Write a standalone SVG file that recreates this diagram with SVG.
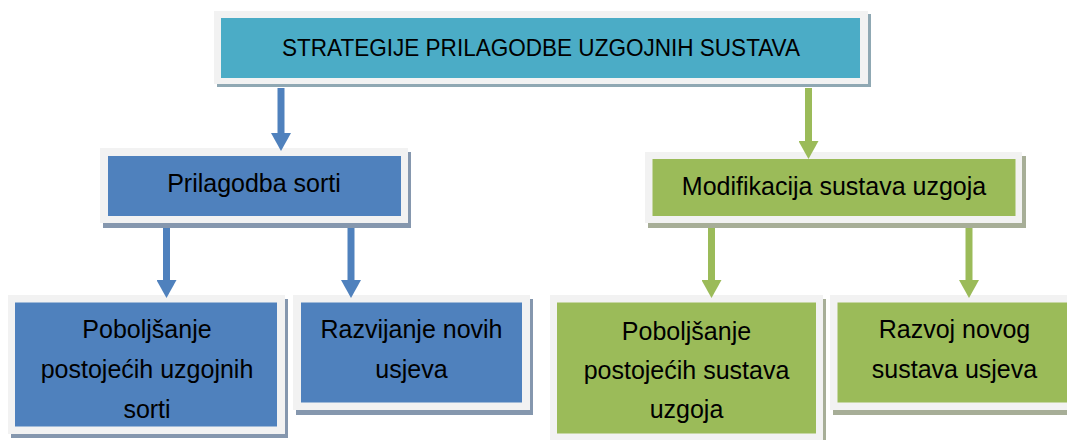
<svg xmlns="http://www.w3.org/2000/svg" width="1067" height="440" viewBox="0 0 1067 440">
  <defs>
    <style>
      .frame { fill: #f2f2f2; }
      .teal { fill: #4bacc6; }
      .blue { fill: #4f81bd; }
      .green { fill: #9bbb59; }
      .sh-teal { fill: #8fa8b3; }
      .sh-blue { fill: #8597ae; }
      .sh-green { fill: #a7ae97; }
      text { font-family: "Liberation Sans", Arial, sans-serif; font-size: 25px; fill: #000; text-anchor: middle; }
      .title { font-size: 24.5px; }
      .c-blue { stroke: #4f81bd; stroke-width: 7; fill: none; }
      .c-green { stroke: #9bbb59; stroke-width: 7; fill: none; }
    </style>
    <marker id="ahBlue" markerUnits="userSpaceOnUse" viewBox="0 0 18 20" markerWidth="18" markerHeight="20" refX="0" refY="10" orient="auto">
      <path d="M0,0 L18,10 L0,20 Z" fill="#4f81bd"/>
    </marker>
    <marker id="ahGreen" markerUnits="userSpaceOnUse" viewBox="0 0 18 20" markerWidth="18" markerHeight="20" refX="0" refY="10" orient="auto">
      <path d="M0,0 L18,10 L0,20 Z" fill="#9bbb59"/>
    </marker>
  </defs>
  <rect width="1067" height="440" fill="#ffffff"/>

  <g id="node-root">
    <rect class="sh-teal" x="217" y="14" width="654" height="73"/>
    <rect class="frame" x="214" y="11" width="654" height="73"/>
    <rect class="teal" x="221" y="18" width="639" height="60"/>
    <text class="title" x="541" y="55.5" textLength="518" lengthAdjust="spacingAndGlyphs">STRATEGIJE PRILAGODBE UZGOJNIH SUSTAVA</text>
  </g>

  <g id="node-prilagodba">
    <rect class="sh-blue" x="103" y="152" width="308" height="76"/>
    <rect class="frame" x="100" y="148" width="308" height="75"/>
    <rect class="blue" x="108" y="156" width="293" height="60"/>
    <text x="254" y="192">Prilagodba sorti</text>
  </g>

  <g id="node-modifikacija">
    <rect class="sh-green" x="648" y="156" width="378" height="72"/>
    <rect class="frame" x="645" y="152" width="377" height="71"/>
    <rect class="green" x="652.5" y="159" width="363" height="57"/>
    <text x="834" y="195">Modifikacija sustava uzgoja</text>
  </g>

  <g id="node-poboljsanje-sorti">
    <rect class="sh-blue" x="11" y="299" width="277" height="139"/>
    <rect class="frame" x="8" y="295" width="277" height="139"/>
    <rect class="blue" x="15" y="302.5" width="262" height="124"/>
    <text x="147" y="338">Poboljšanje</text>
    <text x="147" y="378">postojećih uzgojnih</text>
    <text x="147" y="418">sorti</text>
  </g>

  <g id="node-razvijanje">
    <rect class="sh-blue" x="296" y="299" width="237" height="116"/>
    <rect class="frame" x="293" y="295" width="237" height="115"/>
    <rect class="blue" x="301" y="302.5" width="221" height="100"/>
    <text x="411.5" y="338">Razvijanje novih</text>
    <text x="411.5" y="378">usjeva</text>
  </g>

  <g id="node-poboljsanje-sustava">
    <rect class="sh-green" x="553" y="299" width="273" height="146"/>
    <rect class="frame" x="550" y="295" width="273" height="146"/>
    <rect class="green" x="557" y="302.5" width="259" height="131"/>
    <text x="686.5" y="340">Poboljšanje</text>
    <text x="686.5" y="379">postojećih sustava</text>
    <text x="686.5" y="418">uzgoja</text>
  </g>

  <g id="node-razvoj">
    <rect class="sh-green" x="833" y="299" width="249" height="116"/>
    <rect class="frame" x="830" y="295" width="249" height="115"/>
    <rect class="green" x="837.5" y="302.5" width="235" height="100"/>
    <text x="954.5" y="338">Razvoj novog</text>
    <text x="954.5" y="378">sustava usjeva</text>
  </g>

  <g id="connectors">
    <line class="c-blue" x1="281" y1="88" x2="281" y2="133" marker-end="url(#ahBlue)"/>
    <line class="c-green" x1="808.5" y1="88" x2="808.5" y2="141" marker-end="url(#ahGreen)"/>
    <line class="c-blue" x1="166.5" y1="228" x2="166.5" y2="280" marker-end="url(#ahBlue)"/>
    <line class="c-blue" x1="351" y1="228" x2="351" y2="280" marker-end="url(#ahBlue)"/>
    <line class="c-green" x1="711.5" y1="228" x2="711.5" y2="280" marker-end="url(#ahGreen)"/>
    <line class="c-green" x1="969" y1="228" x2="969" y2="280" marker-end="url(#ahGreen)"/>
  </g>
</svg>
